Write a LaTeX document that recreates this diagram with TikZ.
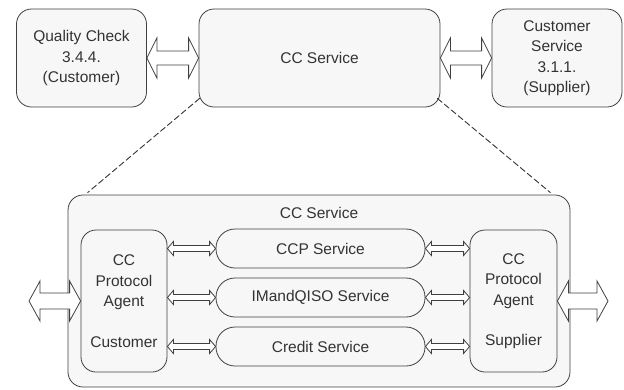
\documentclass[tikz,border=0pt]{standalone}
\usepackage{fontspec}
\setmainfont{Liberation Sans}
\usetikzlibrary{calc}
\definecolor{sqsqsq}{rgb}{0.25,0.25,0.25}
\definecolor{ttttqq}{rgb}{0.2,0.2,0.2}
\definecolor{fcfcfc}{rgb}{0.97,0.97,0.97}
\tikzset{
	box/.style={draw=sqsqsq,line width=0.8pt,fill=fcfcfc,rounded corners=15pt,align=center,text=ttttqq,font=\fontsize{15.5}{20.5}\selectfont,inner sep=0pt},
	pill/.style={box,rounded corners=19pt,minimum width=209pt,minimum height=39pt},
	arrowline/.style={draw=sqsqsq,line width=0.8pt,fill=white,line join=miter},
	link/.style={draw=ttttqq,line width=0.9pt,dash pattern=on 6pt off 3pt}
}
\newcommand{\hollowarrow}[5]{%
	\path (#1) coordinate (ha) (#2) coordinate (hb);
	\draw[arrowline] (ha) -- ($(ha)+(#3,#4)$) -- ($(ha)+(#3,#5)$) -- ($(hb)+(-#3,#5)$) -- ($(hb)+(-#3,#4)$) -- (hb) -- ($(hb)+(-#3,-#4)$) -- ($(hb)+(-#3,-#5)$) -- ($(ha)+(#3,-#5)$) -- ($(ha)+(#3,-#4)$) -- cycle;}
\begin{document}
\begin{tikzpicture}[line cap=round,line join=round,x=1pt,y=-1pt]
	\useasboundingbox (0,0) rectangle (624,389);
		\node[box,minimum width=130pt,minimum height=98pt] (qc) at (81.5,58) {Quality Check\\3.4.4.\\(Customer)};
		\node[box,minimum width=241pt,minimum height=98pt] (cc) at (319.5,58) {CC Service};
		\node[box,minimum width=130pt,minimum height=98pt] (cs) at (557,58) {Customer\\Service\\3.1.1.\\(Supplier)};
	\hollowarrow{qc.east}{cc.west}{10}{20}{7}
	\hollowarrow{cc.east}{cs.west}{10}{20}{7}
		\node[box,minimum width=502pt,minimum height=192pt] (outer) at (319,291) {};
		\node[text=ttttqq,font=\fontsize{15.5}{20.5}\selectfont] (outerlbl) at (319,213) {CC Service};
	\draw[link] ($(cc.south west)+(1,-9)$) -- ($(outer.north west)+(20,-2)$);
	\draw[link] ($(cc.south east)+(-3,-9)$) -- ($(outer.north east)+(-20,-2)$);
		\node[box,minimum width=86pt,minimum height=142pt] (agl) at (124,301) {CC\\Protocol\\Agent\\[20pt]Customer};
		\node[box,minimum width=87pt,minimum height=142pt] (agr) at (513.5,301) {CC\\Protocol\\Agent\\[20pt]Supplier};
		\node[pill] (ccp) at (320.5,248.5) {CCP Service};
		\node[pill] (imq) at (320.5,297.5) {IMandQISO Service};
		\node[pill] (cred) at (320.5,346.5) {Credit Service};
	\foreach \s in {ccp,imq,cred} {
		\hollowarrow{\s.west -| agl.east}{\s.west}{6}{7}{3}
		\hollowarrow{\s.east}{\s.east -| agr.west}{6}{7}{3}
	}
	\coordinate (lend) at (29,301);
	\coordinate (rend) at (608,301);
	\hollowarrow{lend}{agl.west}{11}{20}{8}
	\hollowarrow{agr.east}{rend}{11}{20}{8}
\end{tikzpicture}
\end{document}
